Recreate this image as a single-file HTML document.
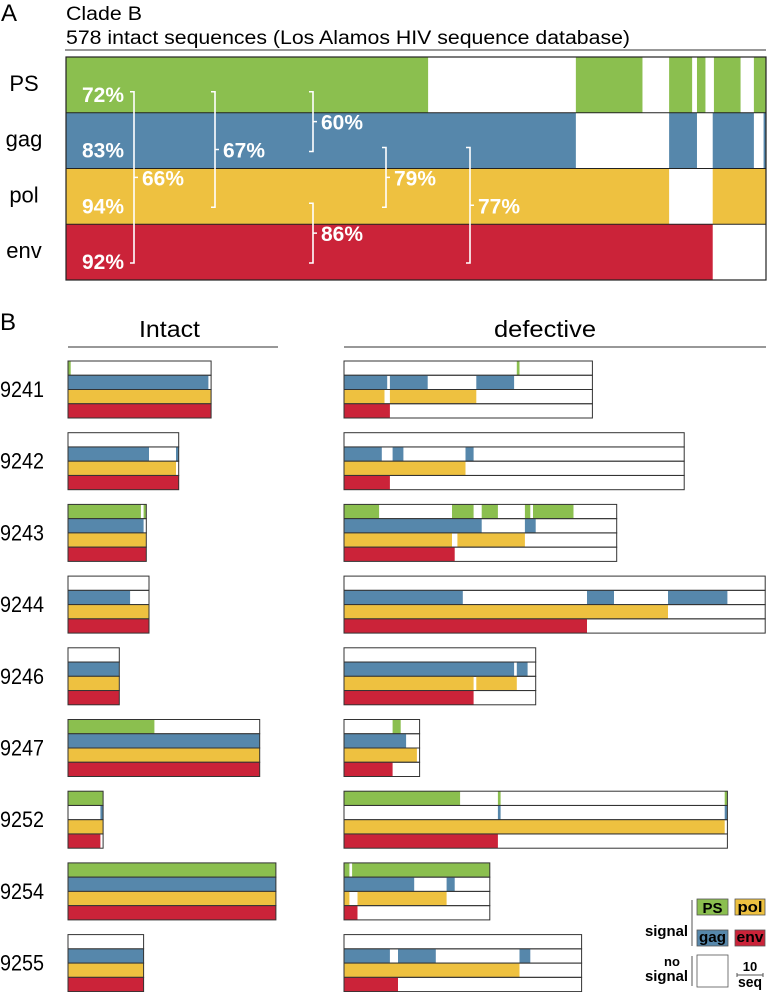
<!DOCTYPE html>
<html><head><meta charset="utf-8"><style>
html,body{margin:0;padding:0;background:#fff;}
svg{display:block;}
text{font-family:"Liberation Sans",sans-serif;}
.nar{font-family:"Liberation Sans Narrow","Liberation Sans",sans-serif;}
</style></head><body>
<svg id="fig" width="767" height="992" viewBox="0 0 767 992" xmlns="http://www.w3.org/2000/svg">
<g id="panelA">
<text x="1" y="21" font-size="24">A</text>
<text x="66" y="20" font-size="19" textLength="76" lengthAdjust="spacingAndGlyphs" class="nar">Clade B</text>
<text x="66" y="44" font-size="19" textLength="564" lengthAdjust="spacingAndGlyphs" class="nar">578 intact sequences (Los Alamos HIV sequence database)</text>
<line x1="65" y1="50" x2="766" y2="50" stroke="#777" stroke-width="1.5"/>
</g>
<g id="panelB">
<text x="0" y="330" font-size="24">B</text>
<text x="139" y="337" font-size="23" textLength="61" lengthAdjust="spacingAndGlyphs" class="nar">Intact</text>
<text x="494" y="337" font-size="23" textLength="102" lengthAdjust="spacingAndGlyphs" class="nar">defective</text>
<line x1="68" y1="347" x2="278" y2="347" stroke="#777" stroke-width="1.5"/>
<line x1="344" y1="347" x2="766" y2="347" stroke="#777" stroke-width="1.5"/>
</g>
<g id="legend">
<text x="688" y="936" font-size="15" font-weight="bold" text-anchor="end" textLength="43" lengthAdjust="spacingAndGlyphs" class="nar">signal</text>
<line x1="692" y1="900" x2="692" y2="946" stroke="#555" stroke-width="1"/>
<rect x="697" y="899" width="31" height="16" fill="#8bbf4f" stroke="#555" stroke-width="0.8"/>
<text x="712.5" y="913" font-size="15" font-weight="bold" text-anchor="middle" class="nar">PS</text>
<rect x="735" y="899" width="30" height="16" fill="#eec140" stroke="#555" stroke-width="0.8"/>
<text x="750" y="912" font-size="15" font-weight="bold" text-anchor="middle" textLength="25" lengthAdjust="spacingAndGlyphs" class="nar">pol</text>
<rect x="697" y="930" width="31" height="16" fill="#5687ab" stroke="#555" stroke-width="0.8"/>
<text x="712.5" y="942" font-size="15" font-weight="bold" text-anchor="middle" textLength="27" lengthAdjust="spacingAndGlyphs" class="nar">gag</text>
<rect x="735" y="930" width="30" height="16" fill="#cb2339" stroke="#555" stroke-width="0.8"/>
<text x="750" y="942" font-size="15" font-weight="bold" text-anchor="middle" textLength="27" lengthAdjust="spacingAndGlyphs" class="nar">env</text>
<text x="672" y="966" font-size="13" font-weight="bold" text-anchor="middle" class="nar">no</text>
<text x="688" y="981" font-size="15" font-weight="bold" text-anchor="end" textLength="43" lengthAdjust="spacingAndGlyphs" class="nar">signal</text>
<line x1="692" y1="956" x2="692" y2="986" stroke="#555" stroke-width="1"/>
<rect x="697" y="955" width="31" height="32" fill="#fff" stroke="#555" stroke-width="0.8"/>
<text x="750" y="971" font-size="13" font-weight="bold" text-anchor="middle" class="nar">10</text>
<path d="M737 973V977M737 975H763M763 973V977" stroke="#555" stroke-width="1" fill="none"/>
<text x="750" y="987" font-size="15" font-weight="bold" text-anchor="middle" textLength="24" lengthAdjust="spacingAndGlyphs" class="nar">seq</text>
</g>
</svg>
<script>
// ---- Panel A data (sequence index ranges out of 578) ----
const genesA = ["PS","gag","pol","env"];
const totalA = 578;
const segPS = [[0,299],[421,476],[498,517],[521,528],[535,557],[568,578]];
const segGag = [[0,421],[498,521],[534,568],[576,578]];
const segPol = [[0,498],[534,578]];
const segEnv = [[0,534]];
const pctA = ["72%","83%","94%","92%"];
const pairLabels = ["66%","67%","60%","79%","86%","77%"];
// ---- Panel B data (sequence counts) ----
const samples = ["9241","9242","9243","9244","9246","9247","9252","9254","9255"];
const intactTotals = [53,41,29,30,19,71,13,77,28];
const intactPS = [[[0,1]],[],[[0,27],[28,29]],[],[],[[0,32]],[[0,13]],[[0,77]],[]];
const intactGag = [[[0,52]],[[0,30],[40,41]],[[0,28]],[[0,23]],[[0,19]],[[0,71]],[[12,13]],[[0,77]],[[0,28]]];
const intactPol = [[[0,53]],[[0,40]],[[0,29]],[[0,30]],[[0,19]],[[0,71]],[[0,13]],[[0,77]],[[0,28]]];
const intactEnv = [[[0,53]],[[0,41]],[[0,29]],[[0,30]],[[0,19]],[[0,71]],[[0,12]],[[0,77]],[[0,28]]];
const defTotals = [92,126,101,156,71,28,142,54,88];
const defPS = [[[64,65]],[],[[0,13],[40,48],[51,57],[67,69],[70,85]],[],[],[[18,21]],[[0,43],[57,58],[141,142]],[[0,2],[3,54]],[]];
const defGag = [[[0,16],[17,31],[49,63]],[[0,14],[18,22],[45,48]],[[0,51],[67,71]],[[0,44],[90,100],[120,142]],[[0,63],[64,68]],[[0,23]],[[57,58],[141,142]],[[0,26],[38,41]],[[0,17],[20,34],[65,69]]];
const defPol = [[[0,15],[17,49]],[[0,45]],[[0,40],[42,67]],[[0,120]],[[0,48],[49,64]],[[0,27]],[[0,141]],[[0,2],[5,38]],[[0,65]]];
const defEnv = [[[0,17]],[[0,17]],[[0,41]],[[0,90]],[[0,48]],[[0,18]],[[0,57]],[[0,5]],[[0,20]]];

const COLORS = {PS:"#8bbf4f",gag:"#5687ab",pol:"#eec140",env:"#cb2339"};
const NS = "http://www.w3.org/2000/svg";
const svg = document.getElementById("fig");
function mk(tag, attrs, parent){ const e=document.createElementNS(NS,tag); for(const k in attrs) e.setAttribute(k,attrs[k]); (parent||svg).appendChild(e); return e; }

// Panel A scales
const aX0=66, aX1=766, aY0=57, aRowH=55.75;
const xA = s => aX0 + s/totalA*(aX1-aX0);
const yA = i => aY0 + i*aRowH;
const gA = document.getElementById("panelA");
const segsA=[segPS,segGag,segPol,segEnv];
genesA.forEach((g,i)=>{
  const bg = mk("rect",{x:aX0,y:yA(i),width:aX1-aX0,height:aRowH,fill:"#fff"},gA);
  
  
  segsA[i].forEach((s,j)=>{
    const r=mk("rect",{x:xA(s[0]),y:yA(i),width:xA(s[1])-xA(s[0]),height:aRowH,fill:COLORS[g]},gA);
    
    
  });
  const lab=mk("text",{x:24,y:yA(i)+aRowH/2+6,"font-size":22,"text-anchor":"middle",class:"nar"},gA);
  lab.textContent=g;
  
  
  const p=mk("text",{x:82,y:yA(i)+aRowH-11,"font-size":21,"font-weight":"bold",fill:"#fff",textLength:42,lengthAdjust:"spacingAndGlyphs",class:"nar"},gA);
  p.textContent=pctA[i];
  
  
});
const frame=mk("rect",{x:aX0,y:aY0,width:aX1-aX0,height:aRowH*4,fill:"none",stroke:"#222","stroke-width":1.2},gA);


for(let i=1;i<4;i++){
  const l=mk("line",{x1:aX0,x2:aX1,y1:yA(i),y2:yA(i),stroke:"#222","stroke-width":1},gA);
  
  
}
// brackets: [x, rowFrom, rowTo]
const brackets=[[134,0,3],[215,0,2],[313,0,1],[386,1,2],[313,2,3],[470,1,3]];
brackets.forEach((b,k)=>{
  const y1=yA(b[1])+aRowH-21, y2=yA(b[2])+aRowH-17, ym=(y1+y2)/2, x=b[0];
  const p=mk("path",{d:`M${x-4} ${y1}H${x}V${y2}H${x-4}M${x} ${ym}H${x+4}`,stroke:"#fff","stroke-width":1.6,fill:"none"},gA);
  
  
  const t=mk("text",{x:x+8,y:ym+8,"font-size":21,"font-weight":"bold",fill:"#fff",textLength:42,lengthAdjust:"spacingAndGlyphs",class:"nar"},gA);
  t.textContent=pairLabels[k];
  
  
});

// Panel B
const pxPerSeq=2.7, bY0=361, bStep=71.7, subH=14.25;
const xI = s => 68 + s*pxPerSeq;
const xD = s => 344 + s*pxPerSeq;
const gB=document.getElementById("panelB");
function drawBlock(xf,total,rows,y0,kind,name){
  rows.forEach((segs,r)=>{
    const gname=genesA[r];
    segs.forEach(s=>{
      const e=mk("rect",{x:xf(s[0]),y:y0+r*subH,width:xf(s[1])-xf(s[0]),height:subH,fill:COLORS[gname]},gB);
      
      
    });
    const o=mk("rect",{x:xf(0),y:y0+r*subH,width:xf(total)-xf(0),height:subH,fill:"none",stroke:"#333","stroke-width":1},gB);
    
    
  });
}
samples.forEach((s,i)=>{
  const y0=bY0+i*bStep;
  const t=mk("text",{x:0,y:y0+36,"font-size":22,textLength:44,lengthAdjust:"spacingAndGlyphs",class:"nar"},gB);
  t.textContent=s;
  
  
  drawBlock(xI,intactTotals[i],[intactPS[i],intactGag[i],intactPol[i],intactEnv[i]],y0,"intact",s);
  drawBlock(xD,defTotals[i],[defPS[i],defGag[i],defPol[i],defEnv[i]],y0,"defective",s);
});
</script>
</body></html>
